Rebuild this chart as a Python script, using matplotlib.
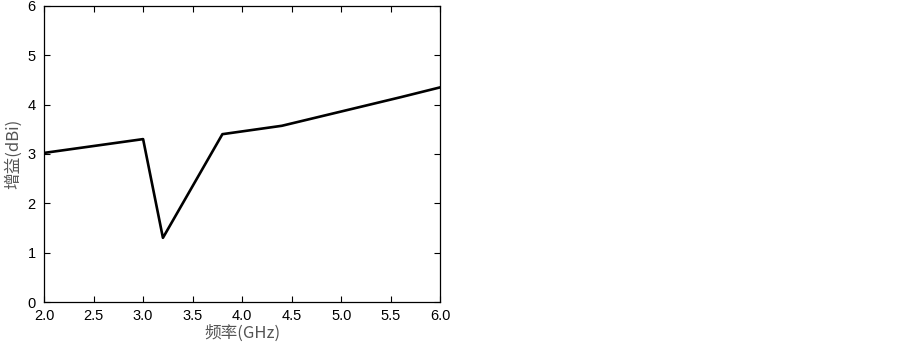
import matplotlib
matplotlib.use("Agg")
import matplotlib.pyplot as plt

freq = [2.0, 3.0, 3.2, 3.8, 4.4, 5.0, 5.6, 6.0]
gain = [3.02, 3.3, 1.3, 3.4, 3.57, 3.86, 4.15, 4.35]
xticks = [2.0, 2.5, 3.0, 3.5, 4.0, 4.5, 5.0, 5.5, 6.0]
yticks = [0, 1, 2, 3, 4, 5, 6]

plt.rcParams['font.family'] = ['Liberation Sans', 'Noto Sans CJK SC', 'DejaVu Sans']

fig = plt.figure(figsize=(9.03, 3.43), dpi=100)
ax = fig.add_axes([0.0487, 0.1195, 0.4391, 0.8635])
ax.plot(freq, gain, color='black', linewidth=1.9)
ax.set_xlim(2.0, 6.0)
ax.set_ylim(0, 6)
ax.set_xticks(xticks)
ax.set_xticklabels([f"{v:.1f}" for v in xticks])
ax.set_yticks(yticks)
ax.tick_params(direction='in', top=True, right=True, length=4, width=0.8, labelsize=10.5)
ax.tick_params(axis='x', pad=5)
ax.tick_params(axis='y', pad=6)
for s in ax.spines.values():
    s.set_linewidth(0.9)
ax.set_xlabel('频率(GHz)', fontsize=12, color='#555555', labelpad=1,
              family=['Noto Sans CJK SC', 'DejaVu Sans'])
ax.set_ylabel('增益(dBi)', fontsize=12, color='#555555', labelpad=4,
              family=['Noto Sans CJK SC', 'DejaVu Sans'])

fig.savefig('out.png', dpi=100)
